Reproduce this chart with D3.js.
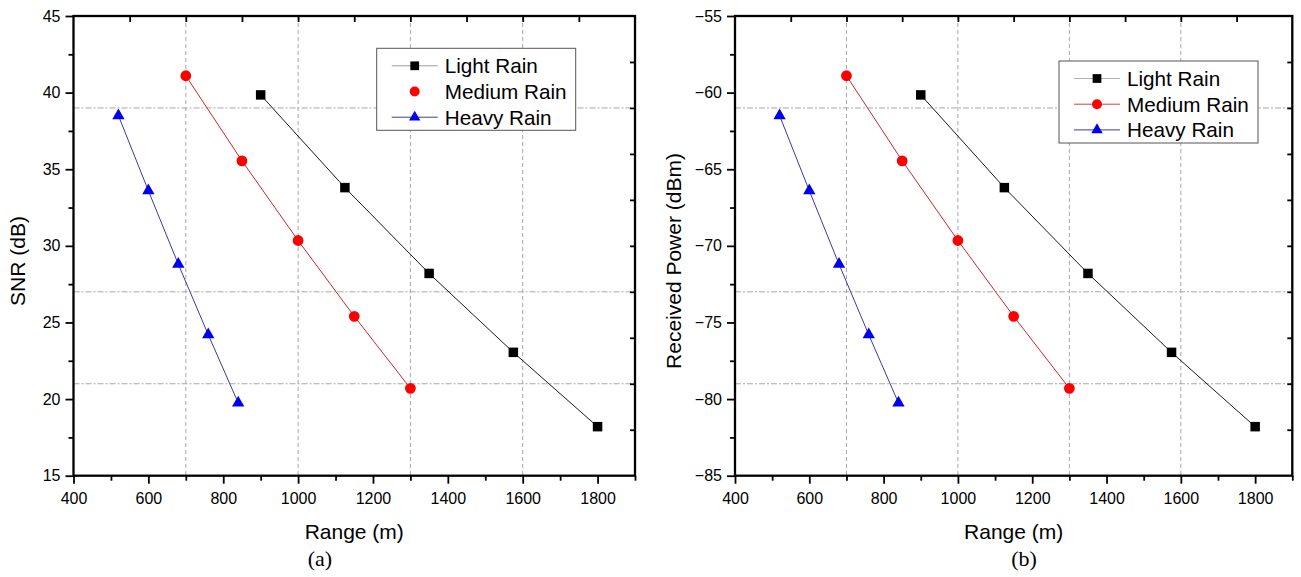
<!DOCTYPE html>
<html>
<head>
<meta charset="utf-8">
<script src="https://cdn.jsdelivr.net/npm/d3@7"></script>
<style>
  html, body { margin: 0; padding: 0; background: #fff; }
  svg { display: block; }
  text { font-family: "Liberation Sans", Arial, sans-serif; fill: #000; }
</style>
</head>
<body>
<svg id="chart" width="1301" height="577"></svg>
<script>
// ---------- data ----------
const seriesNames = ["Light Rain", "Medium Rain", "Heavy Rain"];
const rangeLight  = [900, 1125, 1350, 1575, 1800];
const rangeMedium = [700, 850, 1000, 1150, 1300];
const rangeHeavy  = [520, 600, 680, 760, 840];

const snrLight  = [39.85, 33.8, 28.2, 23.05, 18.2];
const snrMedium = [41.1, 35.55, 30.35, 25.4, 20.7];
const snrHeavy  = [38.5, 33.6, 28.8, 24.2, 19.75];

const powerLight  = [-60.15, -66.2, -71.8, -76.95, -81.8];
const powerMedium = [-58.9, -64.45, -69.65, -74.6, -79.3];
const powerHeavy  = [-61.5, -66.4, -71.2, -75.8, -80.25];

const xTicksMajor = [400, 600, 800, 1000, 1200, 1400, 1600, 1800];
const xTicksMinor = [500, 700, 900, 1100, 1300, 1500, 1700, 1900];
const xTicksTop   = [550, 700, 850, 1000, 1150, 1300, 1450, 1600, 1750];
const xGrid       = [700, 1000, 1300, 1600];

const snrTicksMajor = [15, 20, 25, 30, 35, 40, 45];
const snrTicksMinor = [17.5, 22.5, 27.5, 32.5, 37.5, 42.5];
const snrTicksRight = [18, 21, 24, 27, 30, 33, 36, 39, 42];
const snrGrid       = [39, 27, 21];

const powTicksMajor = [-85, -80, -75, -70, -65, -60, -55];
const powTicksMinor = [-82.5, -77.5, -72.5, -67.5, -62.5, -57.5];
const powTicksRight = [-82, -79, -76, -73, -70, -67, -64, -61, -58];
const powGrid       = [-61, -73, -79];

// ---------- drawing ----------
const svg = d3.select("#chart");

function panel(opts) {
  const g = svg.append("g");
  const x = d3.scaleLinear().domain([400, 1900]).range([opts.x0, opts.x1]);
  const y = d3.scaleLinear().domain(opts.yDomain).range([475.7, 16]);
  const [top, bottom] = [16, 475.7];

  // grid
  g.append("g").selectAll("line").data(xGrid).join("line")
    .attr("x1", d => x(d)).attr("x2", d => x(d))
    .attr("y1", top).attr("y2", bottom)
    .attr("stroke", "#a8a8a8").attr("stroke-width", 1)
    .attr("stroke-dasharray", "4,3");
  g.append("g").selectAll("line").data(opts.grid).join("line")
    .attr("x1", opts.x0).attr("x2", opts.x1)
    .attr("y1", d => y(d)).attr("y2", d => y(d))
    .attr("stroke", "#a8a8a8").attr("stroke-width", 1)
    .attr("stroke-dasharray", "6,2,2,2");

  // axes
  const styleAxis = sel => {
    sel.select(".domain").remove();
    sel.selectAll(".tick line").attr("stroke", "#000").attr("stroke-width", 1.8);
    sel.selectAll(".tick text").style("font-size", "16px").attr("fill", "#000");
  };
  g.append("g").attr("transform", `translate(0,${bottom})`)
    .call(d3.axisBottom(x).tickValues(xTicksMajor).tickSize(8).tickPadding(9).tickFormat(d3.format("d")))
    .call(styleAxis);
  g.append("g").attr("transform", `translate(0,${bottom})`)
    .call(d3.axisBottom(x).tickValues(xTicksMinor).tickSize(5).tickFormat(""))
    .call(styleAxis);
  g.append("g").attr("transform", `translate(0,${top})`)
    .call(d3.axisTop(x).tickValues(xTicksTop).tickSize(-6).tickFormat(""))
    .call(styleAxis);
  g.append("g").attr("transform", `translate(${opts.x0},0)`)
    .call(d3.axisLeft(y).tickValues(opts.yMajor).tickSize(8).tickPadding(5).tickFormat(d3.format("d")))
    .call(styleAxis);
  g.append("g").attr("transform", `translate(${opts.x0},0)`)
    .call(d3.axisLeft(y).tickValues(opts.yMinor).tickSize(5).tickFormat(""))
    .call(styleAxis);
  g.append("g").attr("transform", `translate(${opts.x1},0)`)
    .call(d3.axisRight(y).tickValues(opts.yRight).tickSize(-5).tickFormat(""))
    .call(styleAxis);

  // frame
  g.append("rect").attr("x", opts.x0).attr("y", top)
    .attr("width", opts.x1 - opts.x0).attr("height", bottom - top)
    .attr("fill", "none").attr("stroke", "#000").attr("stroke-width", 2.3);

  // series
  const line = d3.line().x(d => x(d[0])).y(d => y(d[1]));
  const series = [
    {xs: rangeLight,  ys: opts.light,  color: "#1a1a1a", fill: "#000", sym: d3.symbolSquare,   size: 90},
    {xs: rangeMedium, ys: opts.medium, color: "#c82828", fill: "#ff0000", sym: d3.symbolCircle, size: 92},
    {xs: rangeHeavy,  ys: opts.heavy,  color: "#3a3aa0", fill: "#0000ee", sym: d3.symbolTriangle, size: 66}
  ];
  series.forEach(s => {
    const pts = s.xs.map((v, i) => [v, s.ys[i]]);
    g.append("path").attr("d", line(pts)).attr("fill", "none")
      .attr("stroke", s.color).attr("stroke-width", 1);
    g.append("g").selectAll("path").data(pts).join("path")
      .attr("transform", d => `translate(${x(d[0])},${y(d[1])})`)
      .attr("d", d3.symbol().type(s.sym).size(s.size))
      .attr("fill", s.fill);
  });

  // axis titles
  g.append("text").attr("x", (opts.x0 + opts.x1) / 2 - 0).attr("y", 539)
    .attr("text-anchor", "middle").style("font-size", "21px").text("Range (m)");
  g.append("text")
    .attr("transform", `translate(${opts.ylabX},261) rotate(-90)`)
    .attr("text-anchor", "middle").style("font-size", "21px").text(opts.ylabel);
  g.append("text").attr("x", opts.capX).attr("y", 566)
    .attr("text-anchor", "middle")
    .style("font-family", "'Liberation Serif', 'Times New Roman', serif")
    .style("font-size", "22px").text(opts.caption);

  // legend
  const lg = g.append("g");
  lg.append("rect").attr("x", opts.lx).attr("y", opts.ly)
    .attr("width", 199).attr("height", 82)
    .attr("fill", "#fff").attr("stroke", "#555").attr("stroke-width", 1);
  seriesNames.forEach((name, i) => {
    const cy = opts.ly + 17.5 + i * 25.7;
    const s = series[i];
    if (opts.legendLines[i]) {
      lg.append("line").attr("x1", opts.lx + 15).attr("x2", opts.lx + 61)
        .attr("y1", cy).attr("y2", cy)
        .attr("stroke", opts.legendLines[i]).attr("stroke-width", 1);
    }
    lg.append("path").attr("transform", `translate(${opts.lx + 38},${cy})`)
      .attr("d", d3.symbol().type(s.sym).size(s.size * 0.85)).attr("fill", s.fill);
    lg.append("text").attr("x", opts.lx + 68).attr("y", cy + 7.5)
      .style("font-size", "20.7px").text(name);
  });
}

panel({
  x0: 73.5, x1: 635, yDomain: [15, 45],
  yMajor: snrTicksMajor, yMinor: snrTicksMinor, yRight: snrTicksRight, grid: snrGrid,
  light: snrLight, medium: snrMedium, heavy: snrHeavy,
  ylabel: "SNR (dB)", ylabX: 25, caption: "(a)", capX: 320,
  lx: 376.7, ly: 48.3, legendLines: ["#9a9a9a", null, "#3a3aa0"]
});
panel({
  x0: 735, x1: 1292.3, yDomain: [-85, -55],
  yMajor: powTicksMajor, yMinor: powTicksMinor, yRight: powTicksRight, grid: powGrid,
  light: powerLight, medium: powerMedium, heavy: powerHeavy,
  ylabel: "Received Power (dBm)", ylabX: 681, caption: "(b)", capX: 1024,
  lx: 1059, ly: 61, legendLines: ["#b0b0b0", "#d04040", "#3a3aa0"]
});
</script>
</body>
</html>
